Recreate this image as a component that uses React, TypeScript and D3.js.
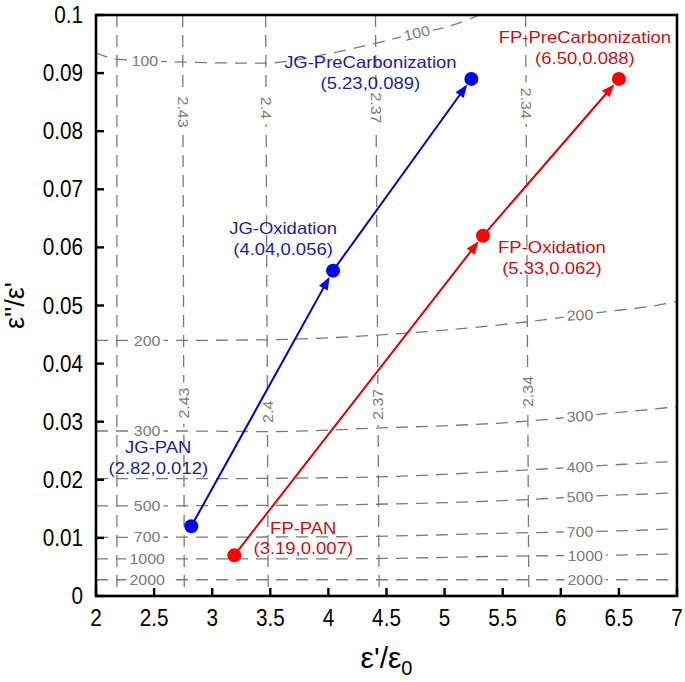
import React from 'react';
import * as d3 from 'd3';

// ---------- data ----------
const xTickValues = [2, 2.5, 3, 3.5, 4, 4.5, 5, 5.5, 6, 6.5, 7];
const xTickLabels = ['2', '2.5', '3', '3.5', '4', '4.5', '5', '5.5', '6', '6.5', '7'];
const yTickValues = [0, 0.01, 0.02, 0.03, 0.04, 0.05, 0.06, 0.07, 0.08, 0.09, 0.1];
const yTickLabels = ['0', '0.01', '0.02', '0.03', '0.04', '0.05', '0.06', '0.07', '0.08', '0.09', '0.1'];

const stageNames = ['PAN', 'Oxidation', 'PreCarbonization'];
const jgEps = [2.82, 4.04, 5.23];
const jgTan = [0.012, 0.056, 0.089];
const fpEps = [3.19, 5.33, 6.5];
const fpTan = [0.007, 0.062, 0.089];
const jgTanText = ['0.012', '0.056', '0.089'];
const fpTanText = ['0.007', '0.062', '0.088'];

// horizontal-ish contour lines: [eps', tan delta]
const hContourLabels = ['100', '200', '300', '400', '500', '700', '1000', '2000'];
const contour100 = [[2.0, 0.0935], [2.18, 0.0924], [2.75, 0.0919], [3.45, 0.0917], [3.76, 0.0924], [3.99, 0.0933], [4.42, 0.0952], [4.76, 0.0969], [4.99, 0.0978], [5.19, 0.0991], [5.32, 0.1002]];
const contour200 = [[2.0, 0.044], [2.75, 0.044], [3.48, 0.0441], [4.42, 0.0449], [5.71, 0.0472], [6.29, 0.0487], [6.93, 0.0504], [7.0, 0.0507]];
const contour300 = [[2.0, 0.0284], [2.75, 0.0284], [3.48, 0.0283], [4.42, 0.0289], [5.71, 0.0301], [6.28, 0.0312], [6.91, 0.0324], [7.0, 0.0326]];
const contour400 = [[2.0, 0.0202], [3.0, 0.0202], [3.76, 0.0203], [4.42, 0.0205], [5.71, 0.0217], [6.31, 0.0224], [6.91, 0.0231], [7.0, 0.0232]];
const contour500 = [[2.0, 0.0155], [3.5, 0.0156], [4.1, 0.0157], [5.72, 0.0166], [6.27, 0.0172], [6.91, 0.0177], [7.0, 0.0178]];
const contour700 = [[2.0, 0.0101], [4.1, 0.0102], [5.72, 0.0109], [6.27, 0.0111], [6.91, 0.0115], [7.0, 0.0116]];
const contour1000 = [[2.0, 0.0064], [4.1, 0.0064], [5.72, 0.0069], [6.3, 0.007], [6.91, 0.0072], [7.0, 0.0073]];
const contour2000 = [[2.0, 0.0028], [4.5, 0.0028], [7.0, 0.0028]];
const hContours = [contour100, contour200, contour300, contour400, contour500, contour700, contour1000, contour2000];

// near-vertical contour lines: eps' at tan=0.1 (top) and tan=0 (bottom)
const vContourLabels = ['', '2.43', '2.4', '2.37', '2.34'];
const vContourTop = [2.18, 2.746, 3.46, 4.405, 5.697];
const vContourBottom = [2.18, 2.76, 3.482, 4.437, 5.725];

// ---------- layout ----------
const W = 685, H = 682;
const M = { left: 96, right: 677, top: 15, bottom: 596 };
const FONT = 'Liberation Sans, Arial, Helvetica, sans-serif';
const GRAY = '#7a7a7a';
const BLUE_DOT = '#0000ff', BLUE_LINE = '#0000cc', BLUE_TEXT = '#1c1ca8';
const RED_DOT = '#ff0000', RED_LINE = '#e00000', RED_TEXT = '#cc1010';

// label placement (pixel offsets from point: dx, dy line1, dy line2)
const jgLabelOffsets = [[-33, -73, -52], [-50, -37, -16], [-101, -11, 10]];
const fpLabelOffsets = [[69, -21, -1], [69, 17, 38], [-34, -36, -15]];

// contour label placement
const hLeftLabelEps = [2.42, 2.44, 2.44, null, 2.44, 2.44, 2.44, 2.44];
const hRightLabelEps = [4.76, 6.165, 6.165, 6.165, 6.165, 6.165, 6.21, 6.21];
const hRightLabelRot = [-13, -3, -3, -2, -1, -1, 0, 0];
const vTopLabelTan = [0, 0.0833, 0.084, 0.084, 0.0848];
const vLowLabelTan = [0, 0.0332, 0.0317, 0.0330, 0.0352];

const x = d3.scaleLinear().domain([2, 7]).range([M.left, M.right]);
const y = d3.scaleLinear().domain([0, 0.1]).range([M.bottom, M.top]);

function interp(points: number[][], e: number) {
  for (let i = 0; i < points.length - 1; i++) {
    const [x0, y0] = points[i];
    const [x1, y1] = points[i + 1];
    if (e >= x0 && e <= x1) return y0 + ((e - x0) / (x1 - x0)) * (y1 - y0);
  }
  return points[points.length - 1][1];
}

function GrayLabel({ px, py, rot, text, fs = 14.5, sx = 1.1 }: any) {
  const w = text.length * fs * 0.556 * sx + 6;
  const h = fs * 0.95;
  return (
    <g transform={`translate(${px},${py}) rotate(${rot})`}>
      <rect x={-w / 2} y={-h / 2} width={w} height={h} fill="white" />
      <text transform={`translate(0,${fs * 0.36}) scale(${sx},1)`} textAnchor="middle" fontSize={fs} fill={GRAY} fontFamily={FONT}>
        {text}
      </text>
    </g>
  );
}

function STxt({ px, py, text, fill, fs = 16.5, sx = 1.12, anchor = 'middle' }: any) {
  return (
    <text transform={`translate(${px},${py}) scale(${sx},1)`} textAnchor={anchor} fontSize={fs} fill={fill} fontFamily={FONT}>
      {text}
    </text>
  );
}

function Series({ eps, tan, tanText, prefix, dot, line, txt, offsets }: any) {
  const r = 7;
  const L = 13, hw = 5;
  const pts = eps.map((e: number, i: number) => [x(e), y(tan[i])]);
  const arrows = [];
  for (let i = 0; i < pts.length - 1; i++) {
    const [x0, y0] = pts[i];
    const [x1, y1] = pts[i + 1];
    const dx = x1 - x0, dy = y1 - y0;
    const len = Math.hypot(dx, dy);
    const ux = dx / len, uy = dy / len;
    const tx = x1 - ux * r, ty = y1 - uy * r;
    const bx = tx - ux * L, by = ty - uy * L;
    const nx = -uy, ny = ux;
    arrows.push(
      <g key={i}>
        <line x1={x0} y1={y0} x2={bx + ux * 2} y2={by + uy * 2} stroke={line} strokeWidth={2} />
        <polygon points={`${tx},${ty} ${bx + nx * hw},${by + ny * hw} ${bx - nx * hw},${by - ny * hw}`} fill={dot} />
      </g>
    );
  }
  return (
    <g>
      {arrows}
      {pts.map((p: number[], i: number) => (
        <circle key={i} cx={p[0]} cy={p[1]} r={r} fill={dot} />
      ))}
      {pts.map((p: number[], i: number) => {
        const [dx, d1, d2] = offsets[i];
        return (
          <g key={'l' + i}>
            <STxt px={p[0] + dx} py={p[1] + d1} text={`${prefix}-${stageNames[i]}`} fill={txt} />
            <STxt px={p[0] + dx} py={p[1] + d2} text={`(${eps[i].toFixed(2)},${tanText[i]})`} fill={txt} />
          </g>
        );
      })}
    </g>
  );
}

export default function App() {
  const lineGen = d3
    .line<number[]>()
    .x((d) => x(d[0]))
    .y((d) => y(d[1]))
    .curve(d3.curveMonotoneX);

  return (
    <svg width={W} height={H} style={{ position: 'absolute', left: 0, top: 0, background: 'white' }}>
      <defs>
        <clipPath id="plotClip">
          <rect x={M.left} y={M.top} width={M.right - M.left} height={M.bottom - M.top} />
        </clipPath>
      </defs>
      <rect x={0} y={0} width={W} height={H} fill="white" />

      {/* contour lines */}
      <g clipPath="url(#plotClip)" fill="none" stroke={GRAY} strokeWidth={1.3} strokeDasharray="12,8">
        {hContours.map((c, i) => (
          <path key={i} d={lineGen(c as any) || ''} />
        ))}
        {vContourTop.map((t, i) => (
          <line key={'v' + i} x1={x(t)} y1={y(0.1)} x2={x(vContourBottom[i])} y2={y(0)} />
        ))}
      </g>

      {/* contour labels */}
      <g>
        {hContours.map((c, i) => {
          const le = hLeftLabelEps[i];
          const re = hRightLabelEps[i];
          return (
            <g key={i}>
              {le !== null && <GrayLabel px={x(le as number)} py={y(interp(c, le as number))} rot={0} text={hContourLabels[i]} />}
              <GrayLabel px={x(re)} py={y(interp(c, re))} rot={hRightLabelRot[i]} text={hContourLabels[i]} />
            </g>
          );
        })}
        {vContourLabels.map((lab, i) => {
          if (!lab) return null;
          const at = (t: number) => x(vContourBottom[i] + (vContourTop[i] - vContourBottom[i]) * (t / 0.1));
          return (
            <g key={'vl' + i}>
              <GrayLabel px={at(vTopLabelTan[i])} py={y(vTopLabelTan[i])} rot={90} text={lab} />
              <GrayLabel px={at(vLowLabelTan[i])} py={y(vLowLabelTan[i])} rot={-90} text={lab} />
            </g>
          );
        })}
      </g>

      {/* series */}
      <Series eps={jgEps} tan={jgTan} tanText={jgTanText} prefix="JG" dot={BLUE_DOT} line={BLUE_LINE} txt={BLUE_TEXT} offsets={jgLabelOffsets} />
      <Series eps={fpEps} tan={fpTan} tanText={fpTanText} prefix="FP" dot={RED_DOT} line={RED_LINE} txt={RED_TEXT} offsets={fpLabelOffsets} />

      {/* frame */}
      <rect x={M.left} y={M.top} width={M.right - M.left} height={M.bottom - M.top} fill="none" stroke="black" strokeWidth={2.6} />

      {/* ticks */}
      {xTickValues.map((v, i) => (
        <g key={'xt' + i}>
          <line x1={x(v)} x2={x(v)} y1={M.bottom} y2={M.bottom - 8} stroke="black" strokeWidth={2.4} />
          <STxt px={x(v)} py={M.bottom + 30} text={xTickLabels[i]} fill="black" fs={23} sx={0.9} />
        </g>
      ))}
      {yTickValues.map((v, i) => (
        <g key={'yt' + i}>
          <line x1={M.left} x2={M.left + 8} y1={y(v)} y2={y(v)} stroke="black" strokeWidth={2.4} />
          <STxt px={83} py={y(v) + 8} text={yTickLabels[i]} fill="black" fs={23} sx={0.9} anchor="end" />
        </g>
      ))}

      {/* axis titles */}
      <text x={(M.left + M.right) / 2} y={668} textAnchor="middle" fontSize={30} fontFamily={FONT} fill="black">
        {"ε'/ε"}
        <tspan dy={7} fontSize={20}>0</tspan>
      </text>
      <text transform={`translate(24,${(M.top + M.bottom) / 2}) rotate(-90)`} textAnchor="middle" fontSize={27} fontFamily={FONT} fill="black">
        {"ε''/ε'"}
      </text>
    </svg>
  );
}
